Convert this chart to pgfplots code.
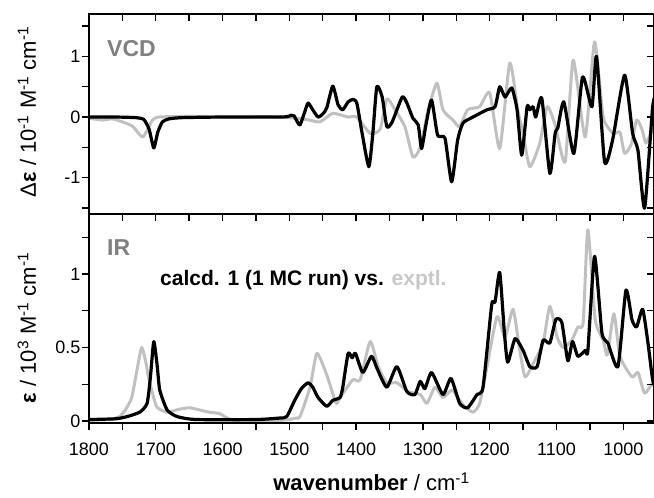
\documentclass[border=0pt]{standalone}
\usepackage{pgfplots}
\pgfplotsset{compat=1.18}
\usepackage{pgfplotstable}
\usepackage{fontspec}
\setmainfont{Liberation Sans}

\definecolor{exptline}{RGB}{192,192,192}
\definecolor{paneltag}{RGB}{128,128,128}
\definecolor{expttext}{RGB}{200,200,200}

% VCD, calculated
\pgfplotstableread{
x y
1800 0
1760 0
1730 -0.01
1718 -0.04
1710 -0.2
1703 -0.51
1697 -0.25
1690 -0.08
1680 -0.03
1660 -0.01
1600 0
1510 0
1497 0.03
1493 0.02
1488 -0.08
1484 -0.13
1478 0.05
1472 0.23
1465 0.12
1457 0.0
1450 0.05
1444 0.15
1435 0.51
1427 0.2
1420 0.12
1412 0.25
1405 0.29
1399 0.23
1391 -0.27
1381 -0.82
1375 -0.27
1369 0.5
1361 0.33
1354 -0.16
1346 -0.08
1331 0.33
1324 0.23
1315 -0.02
1307 -0.13
1302 -0.52
1295 -0.1
1287 0.28
1278 -0.3
1267 -0.35
1257 -1.07
1248 -0.38
1240 -0.1
1225 0.0
1204 0.12
1192 0.17
1185 0.5
1177 0.33
1167 0.48
1159 0.12
1152 -0.63
1144 0.17
1140 0.12
1135 0.17
1131 0.0
1122 0.31
1110 -0.93
1102 -0.27
1098 -0.18
1089 0.25
1074 -0.6
1061 0.66
1047 0.17
1040 1.0
1028 -0.74
1016 -0.38
998 0.69
986 -0.27
978 -0.55
968 -1.5
956 0.17
950 0.4
}\vcdcalc

% VCD, experiment
\pgfplotstableread{
x y
1800 -0.02
1780 -0.05
1765 -0.03
1750 -0.08
1735 -0.15
1725 -0.28
1719 -0.33
1712 -0.2
1705 -0.05
1695 0
1650 0.01
1600 0
1520 0
1490 -0.02
1470 -0.05
1454 -0.08
1435 0.06
1412 0.0
1399 0.0
1379 -0.27
1364 -0.2
1354 0.3
1342 0.12
1327 -0.16
1315 -0.66
1304 -0.5
1292 0.12
1279 0.56
1270 0.12
1255 -0.05
1245 -0.16
1233 0.12
1215 0.17
1200 0.4
1185 -0.52
1170 0.89
1158 0.12
1150 -0.27
1140 -0.82
1125 -0.43
1114 0.17
1102 -0.13
1087 -0.74
1075 0.94
1057 -0.33
1043 1.24
1030 0
1015 -0.27
1005 -0.25
998 -0.6
988 -0.45
980 -0.05
972 -0.2
966 -0.43
956 -0.2
950 -0.1
}\vcdexpt

% IR, calculated
\pgfplotstableread{
x y
1800 0.01
1760 0.015
1743 0.03
1724 0.06
1713 0.12
1708 0.3
1703 0.54
1698 0.38
1694 0.21
1683 0.075
1668 0.03
1640 0.01
1550 0.01
1515 0.02
1504 0.03
1492 0.14
1482 0.22
1472 0.26
1465 0.23
1457 0.16
1444 0.1
1435 0.14
1424 0.16
1420 0.23
1412 0.46
1406 0.43
1401 0.46
1390 0.33
1377 0.44
1368 0.35
1354 0.23
1339 0.37
1324 0.2
1312 0.18
1304 0.27
1297 0.22
1287 0.33
1270 0.18
1258 0.29
1245 0.12
1233 0.09
1219 0.18
1210 0.23
1197 0.79
1192 0.81
1185 1.01
1178 0.6
1173 0.4
1162 0.56
1150 0.48
1140 0.37
1129 0.37
1120 0.55
1110 0.53
1101 0.69
1092 0.67
1083 0.41
1076 0.54
1068 0.44
1057 0.48
1053 0.48
1043 1.12
1032 0.6
1023 0.53
1008 0.37
996 0.89
987 0.69
980 0.64
971 0.76
963 0.53
956 0.28
950 0.2
}\ircalc

% IR, experiment
\pgfplotstableread{
x y
1800 0.005
1770 0.01
1754 0.03
1745 0.08
1736 0.16
1728 0.35
1721 0.50
1714 0.38
1711 0.3
1699 0.1
1683 0.06
1665 0.08
1649 0.09
1630 0.07
1620 0.06
1604 0.05
1593 0.02
1580 0.005
1510 0.005
1490 0.02
1484 0.03
1469 0.23
1459 0.46
1447 0.35
1440 0.26
1430 0.12
1424 0.16
1405 0.28
1394 0.28
1379 0.54
1367 0.37
1354 0.26
1339 0.26
1322 0.2
1304 0.18
1294 0.12
1282 0.23
1270 0.16
1256 0.21
1240 0.11
1225 0.06
1215 0.12
1204 0.37
1189 0.71
1177 0.57
1165 0.76
1155 0.48
1147 0.3
1135 0.39
1120 0.53
1110 0.78
1099 0.57
1090 0.5
1077 0.55
1068 0.64
1060 0.67
1053 1.3
1042 0.69
1030 0.55
1024 0.45
1014 0.73
1005 0.44
987 0.3
978 0.33
968 0.19
956 0.26
950 0.27
}\irexpt

\pgfplotsset{
  panel/.style={
    scale only axis, width=565pt,
    x dir=reverse, xmin=954, xmax=1800,
    axis line style={line width=1.4pt},
    every tick/.style={line width=1.4pt, black},
    major tick length=7pt, minor tick length=7pt,
    xtick={1000,1100,...,1800}, minor xtick={1050,1150,...,1750},
    /pgf/number format/assume math mode=true,
    /pgf/number format/1000 sep={},
    ticklabel style={font=\fontsize{18}{20}\selectfont},
    xticklabel style={yshift=-9pt},
    yticklabel style={xshift=2pt},
    label style={font=\fontsize{22}{24}\selectfont},
  },
  outer ticks/.style={panel, tick align=outside, xtick pos=left, ytick pos=left},
  inner ticks/.style={panel, tick align=inside, xtick pos=right, ytick pos=right,
    xticklabels={}, yticklabels={}},
  vcdrange/.style={height=200pt, ymin=-1.60, ymax=1.70,
    ytick={-1,0,1}, minor ytick={-1.5,-0.5,0.5,1.5}},
  irrange/.style={height=209pt, ymin=-0.0136, ymax=1.408,
    ytick={0,0.5,1}, minor ytick={0.25,0.75,1.25}},
}

\begin{document}
\begin{tikzpicture}[x=1pt,y=1pt]
\useasboundingbox (0,0) rectangle (654,498);

% VCD panel
\begin{axis}[outer ticks, vcdrange, at={(89pt,284pt)}, anchor=south west,
  xticklabels={},
  ylabel={Δ\textbf{ε} / 10\textsuperscript{-1} M\textsuperscript{-1} cm\textsuperscript{-1}},
  ylabel style={at={(axis description cs:-0.11,0.51)}, anchor=center}]
  \addplot[exptline, line width=3pt, line join=round, smooth, tension=0.35] table {\vcdexpt};
  \addplot[black, line width=3.2pt, line join=round, smooth, tension=0.35] table {\vcdcalc};
\end{axis}
\begin{axis}[inner ticks, vcdrange, at={(89pt,284pt)}, anchor=south west]
\end{axis}

% IR panel
\begin{axis}[outer ticks, irrange, at={(89pt,75pt)}, anchor=south west,
  xlabel={\textbf{wavenumber} / cm\textsuperscript{-1}},
  xlabel style={at={(axis description cs:0.5,-0.282)}, anchor=center},
  ylabel={\textbf{ε} / 10\textsuperscript{3} M\textsuperscript{-1} cm\textsuperscript{-1}},
  ylabel style={at={(axis description cs:-0.11,0.455)}, anchor=center}]
  \addplot[exptline, line width=3pt, line join=round, smooth, tension=0.35] table {\irexpt};
  \addplot[black, line width=3.2pt, line join=round, smooth, tension=0.35] table {\ircalc};
\end{axis}
\begin{axis}[inner ticks, irrange, at={(89pt,75pt)}, anchor=south west]
\end{axis}

\node[anchor=west, inner sep=0pt, text=paneltag, font=\fontsize{23}{25}\selectfont\bfseries]
  at (107,449.5) {VCD};
\node[anchor=west, inner sep=0pt, text=paneltag, font=\fontsize{23}{25}\selectfont\bfseries]
  at (107,250.5) {IR};
\node[anchor=base west, inner sep=0pt, font=\fontsize{21}{24}\selectfont\bfseries]
  at (160,212) {calcd. 1 (1 MC run) vs. \textcolor{expttext}{exptl.}};
\end{tikzpicture}
\end{document}
